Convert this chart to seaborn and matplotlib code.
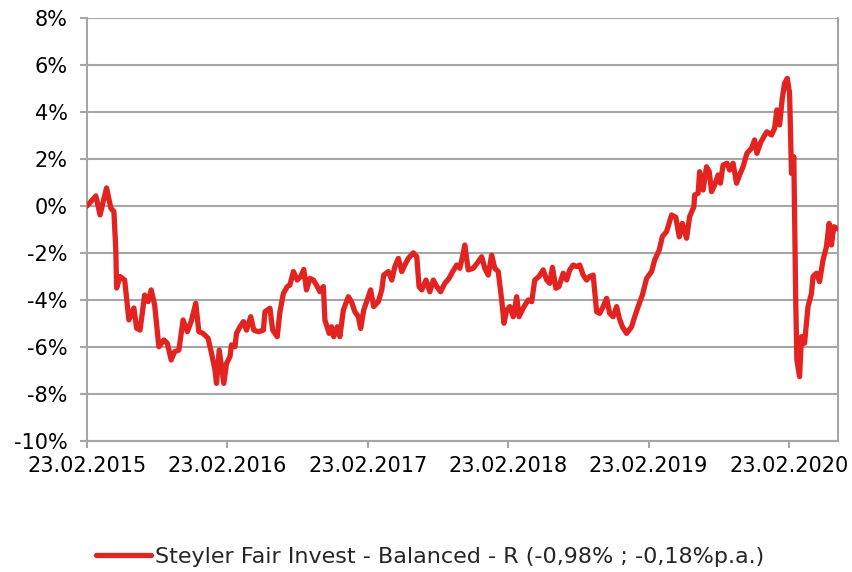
import matplotlib
matplotlib.use("Agg")
import matplotlib.pyplot as plt
import matplotlib.dates as mdates
import seaborn as sns
import pandas as pd
import numpy as np

start_date = "2015-02-23"
# days since start date
day_offsets = [0, 23, 34, 42, 51, 62, 70, 75, 77, 86, 98, 109, 122, 129, 138, 150, 159, 167, 176,
               187, 200, 209, 219, 228, 239, 250, 261, 271, 283, 291, 302, 315, 324, 333, 337,
               344, 350, 356, 363, 372, 376, 385, 389, 398, 407, 415, 426, 434, 446, 459, 463,
               476, 483, 495, 502, 511, 521, 528, 537, 547, 556, 564, 571, 580, 589, 597, 606,
               615, 619, 630, 636, 642, 651, 658, 667, 680, 688, 697, 706, 712, 720, 729, 738,
               746, 758, 767, 772, 784, 793, 801, 810, 819, 827, 836, 849, 858, 864, 871, 882,
               892, 901, 910, 920, 931, 942, 949, 962, 970, 977, 983, 992, 1005, 1018, 1027,
               1035, 1044, 1053, 1061, 1070, 1079, 1085, 1092, 1100, 1109, 1118, 1124, 1137,
               1148, 1157, 1165, 1176, 1187, 1196, 1204, 1211, 1220, 1228, 1239, 1248, 1256,
               1265, 1274, 1282, 1291, 1300, 1308, 1317, 1326, 1334, 1343, 1352, 1360, 1369,
               1378, 1385, 1393, 1404, 1417, 1425, 1434, 1445, 1456, 1469, 1477, 1489, 1497,
               1508, 1521, 1532, 1541, 1549, 1560, 1568, 1579, 1581, 1590, 1594, 1603, 1612,
               1619, 1625, 1633, 1642, 1648, 1655, 1665, 1672, 1681, 1690, 1698, 1707, 1717,
               1729, 1737, 1743, 1752, 1761, 1769, 1781, 1789, 1795, 1802, 1809, 1815, 1822,
               1828, 1833, 1839, 1844, 1847, 1854, 1859, 1867, 1876, 1885, 1889, 1898, 1906,
               1915, 1924, 1931, 1937, 1943, 1954]
# cumulative performance in %
performance = [0.0, 0.43, -0.38, 0.18, 0.77, -0.09, -0.24, -1.87, -3.49, -3.0, -3.15, -4.85, -4.34,
               -5.2, -5.28, -3.79, -4.07, -3.57, -4.21, -5.99, -5.7, -5.84, -6.55, -6.2, -6.13,
               -4.85, -5.35, -4.92, -4.14, -5.35, -5.42, -5.63, -6.27, -6.98, -7.55, -6.13, -6.84,
               -7.55, -6.7, -6.41, -5.91, -5.99, -5.42, -5.14, -4.92, -5.28, -4.71, -5.28, -5.35,
               -5.28, -4.5, -4.35, -5.28, -5.56, -4.5, -3.72, -3.43, -3.36, -2.79, -3.15, -3.0,
               -2.7, -3.57, -3.08, -3.15, -3.36, -3.65, -3.43, -4.85, -5.42, -5.14, -5.56, -5.14,
               -5.56, -4.43, -3.86, -4.07, -4.5, -4.71, -5.21, -4.43, -4.0, -3.57, -4.28, -4.07,
               -3.57, -2.94, -2.79, -3.15, -2.58, -2.23, -2.79, -2.51, -2.23, -1.99, -2.16, -3.43,
               -3.57, -3.15, -3.65, -3.15, -3.43, -3.65, -3.29, -3.08, -2.86, -2.51, -2.65, -2.16,
               -1.66, -2.72, -2.65, -2.37, -2.16, -2.65, -2.94, -2.09, -2.65, -2.79, -4.0, -4.99,
               -4.43, -4.28, -4.71, -3.86, -4.71, -4.28, -4.0, -4.07, -3.15, -3.0, -2.72, -3.15,
               -3.29, -2.61, -3.5, -3.43, -2.86, -3.15, -2.72, -2.51, -2.58, -2.51, -2.94, -3.15,
               -3.0, -2.94, -4.5, -4.57, -4.28, -3.93, -4.57, -4.71, -4.28, -4.78, -5.14, -5.42,
               -5.14, -4.71, -4.28, -3.79, -3.08, -2.79, -2.3, -1.87, -1.3, -1.09, -0.38, -0.48,
               -1.31, -0.74, -1.37, -0.45, -0.03, 0.47, 0.54, 1.46, 0.68, 1.67, 1.46, 0.61, 0.89,
               1.32, 0.97, 1.74, 1.82, 1.53, 1.82, 0.97, 1.32, 1.67, 2.24, 2.46, 2.81, 2.24, 2.67,
               2.95, 3.16, 3.02, 3.31, 4.09, 3.45, 4.58, 5.22, 5.43, 4.8, 1.39, 2.1, -4.0, -6.55,
               -7.26, -5.56, -5.84, -4.28, -3.72, -3.0, -2.86, -3.22, -2.3, -1.73, -0.74, -1.66,
               -0.88, -0.98]

x_tick_dates = ["2015-02-23", "2016-02-23", "2017-02-23", "2018-02-23", "2019-02-23", "2020-02-23"]
y_ticks = [-10, -8, -6, -4, -2, 0, 2, 4, 6, 8]
series_label = "Steyler Fair Invest - Balanced - R (-0,98% ; -0,18%p.a.)"

df = pd.DataFrame({
    "date": pd.Timestamp(start_date) + pd.to_timedelta(day_offsets, unit="D"),
    "perf": performance,
    "series": series_label,
})

sns.set_style("white")
plt.rcParams["font.family"] = ["DejaVu Sans"]

fig = plt.figure(figsize=(8.52, 5.72), dpi=100)
ax = fig.add_axes([87 / 852, 1 - 441 / 572, (838 - 87) / 852, (441 - 18) / 572])

grid_color = "#A6A6A6"
for v in y_ticks:
    ax.axhline(v, color=grid_color, lw=1.5, zorder=0)

sns.lineplot(data=df, x="date", y="perf", hue="series", palette=["#E32320"],
             lw=3.8, ax=ax, legend=True, zorder=3)

ax.set_xlim(df["date"].iloc[0], df["date"].iloc[-1])
ax.set_ylim(-10, 8)
ax.set_yticks(y_ticks)
ax.set_yticklabels([f"{v}%" for v in y_ticks])
ax.set_xticks(pd.to_datetime(x_tick_dates))
ax.xaxis.set_major_formatter(mdates.DateFormatter("%d.%m.%Y"))
ax.set_xlabel("")
ax.set_ylabel("")

for side in ["left", "bottom", "right"]:
    ax.spines[side].set_visible(True)
    ax.spines[side].set_color(grid_color)
    ax.spines[side].set_linewidth(1.5)
ax.spines["top"].set_visible(False)

ax.tick_params(axis="both", which="major", labelsize=15, colors="black",
               length=5, width=1.5, color=grid_color, direction="out")
ax.tick_params(axis="y", pad=9)
ax.tick_params(axis="x", pad=6)
ax.tick_params(left=True, bottom=True)

handles, labels = ax.get_legend_handles_labels()
ax.get_legend().remove()
fig.legend(handles, labels, loc="center", bbox_to_anchor=(430 / 852, 1 - 557 / 572),
           frameon=False, fontsize=16, handlelength=2.5, handletextpad=0.18)

fig.savefig("out.png", dpi=100)
